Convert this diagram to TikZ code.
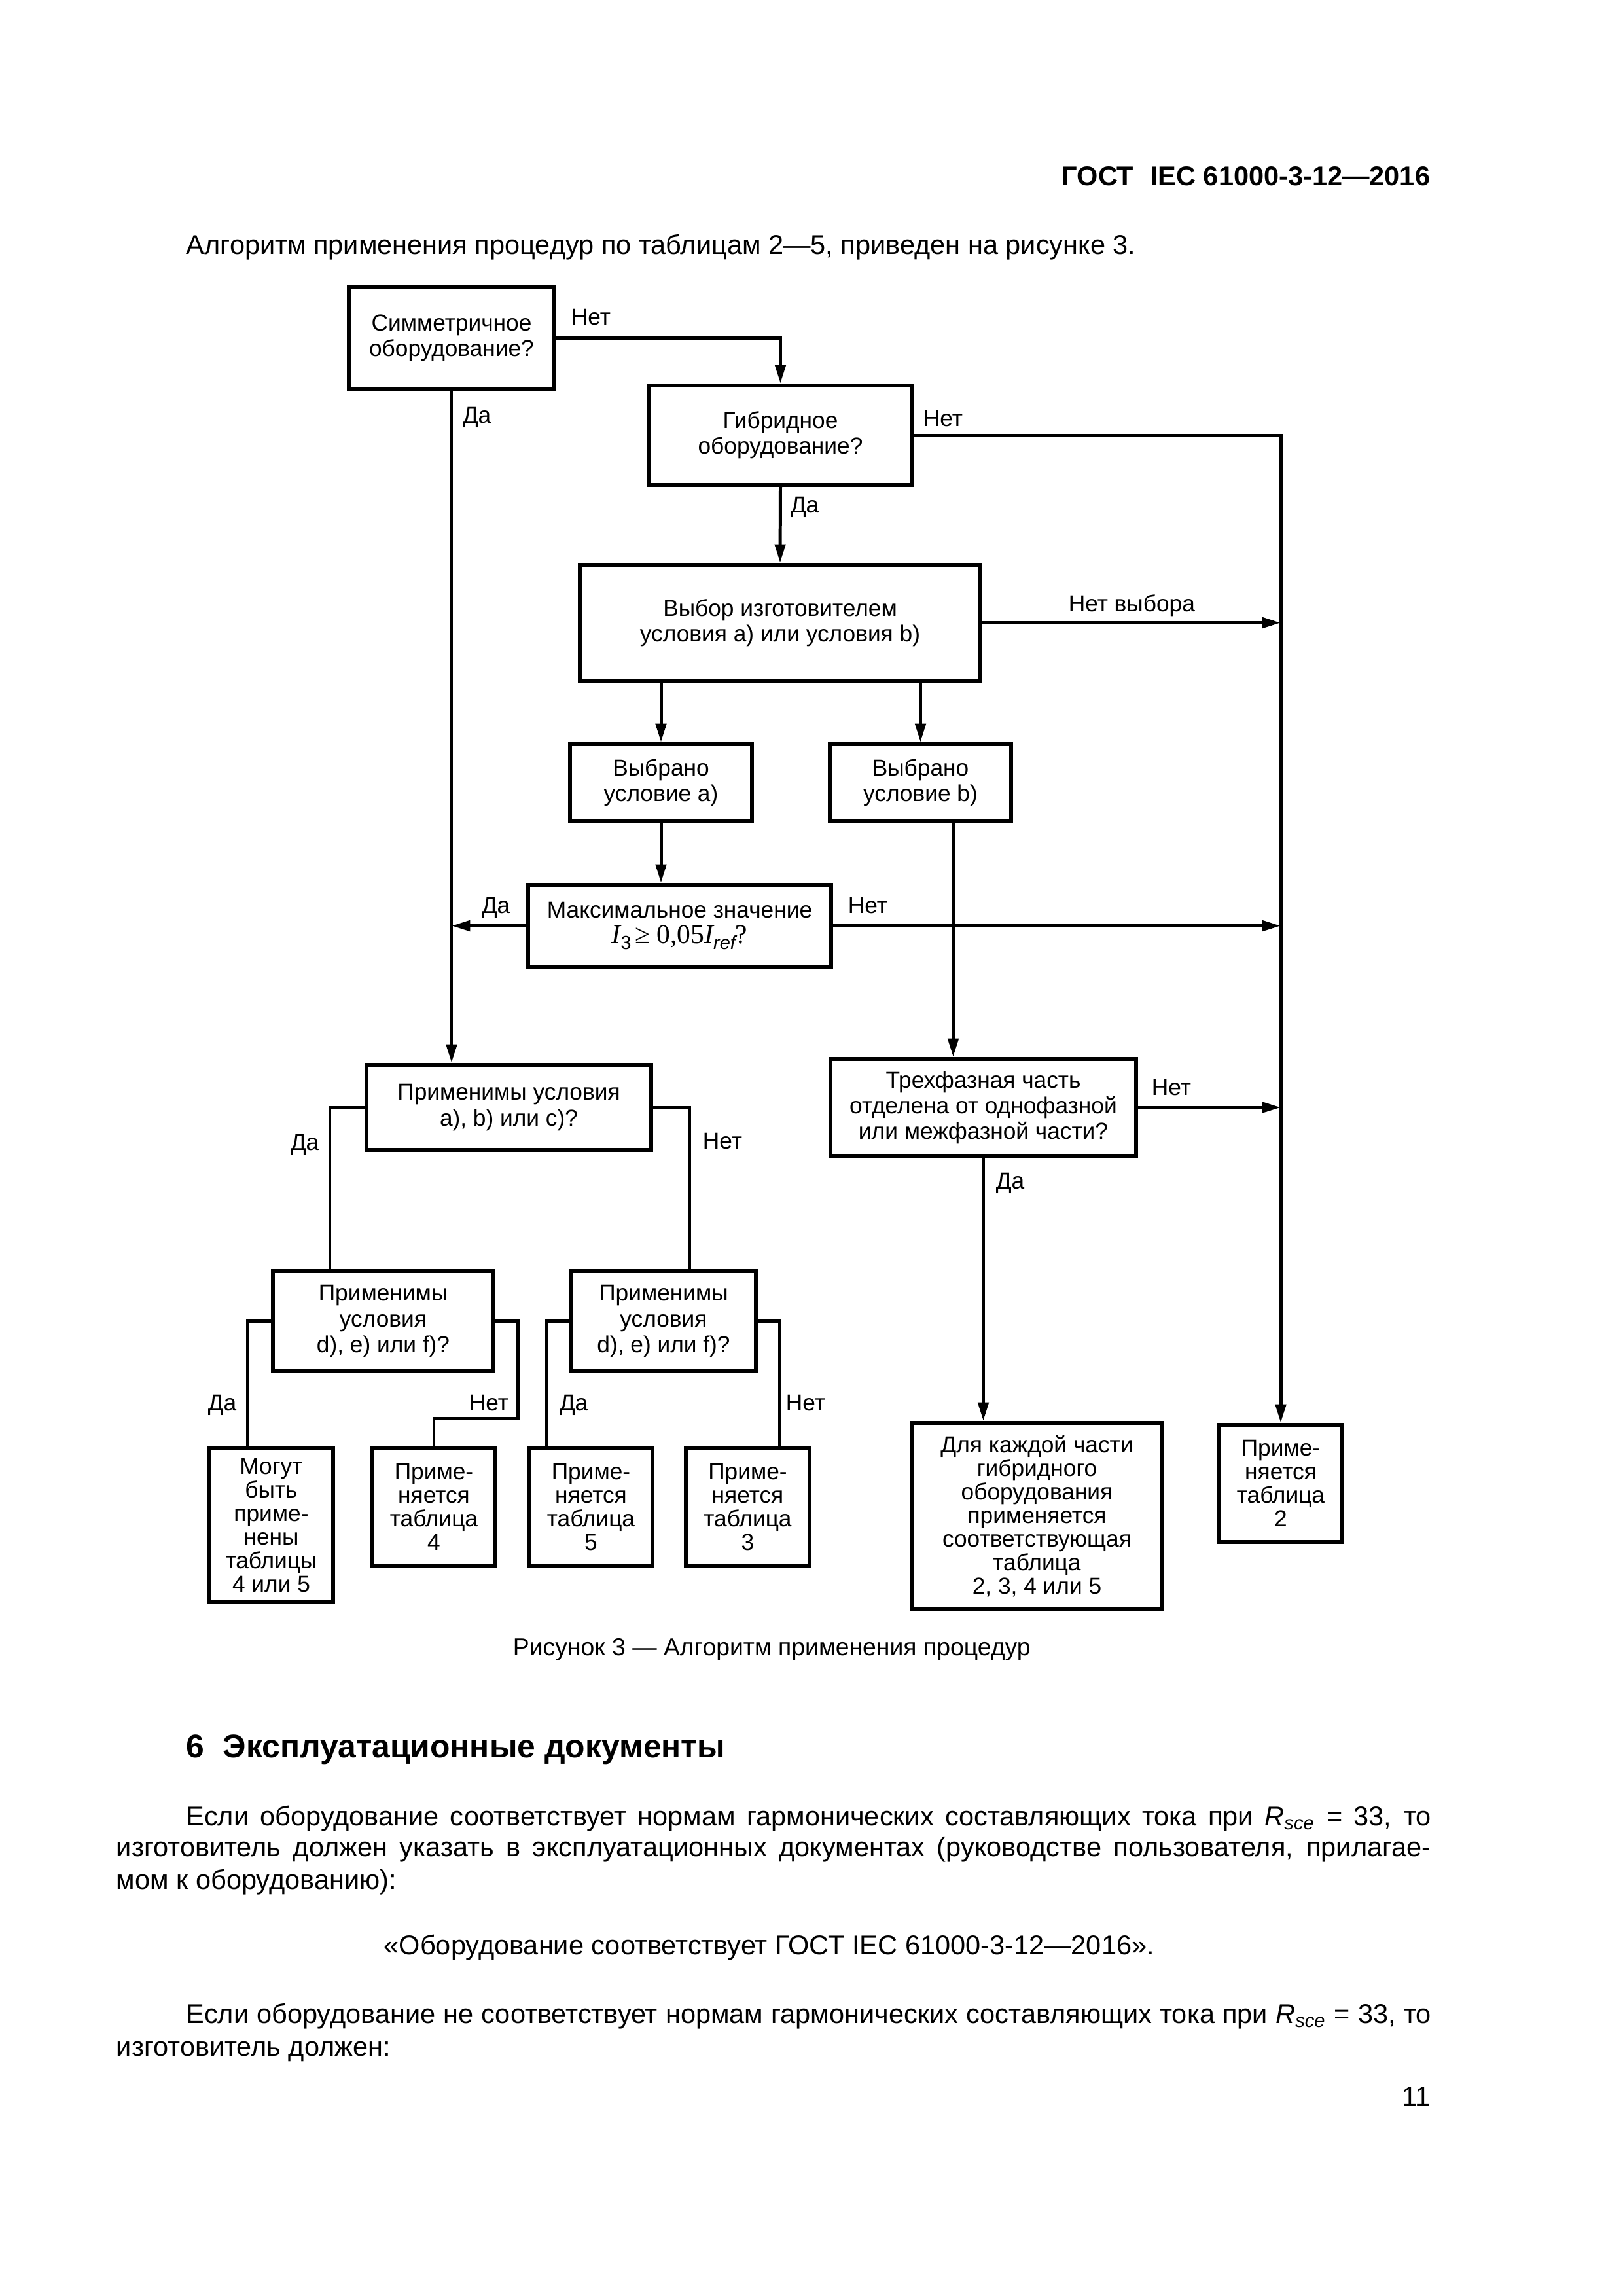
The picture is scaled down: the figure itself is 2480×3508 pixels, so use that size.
\documentclass[tikz,border=0pt]{standalone}
\usepackage{fontspec}
\setmainfont{Liberation Sans}
\newfontfamily\tnr{Liberation Serif}
\usetikzlibrary{arrows.meta}
\newlength\pxu
\setlength\pxu{0.0846774mm}
\newcommand\boxfont{\fontsize{8.5}{9.4}\selectfont}
\newcommand\tallfont{\fontsize{8.5}{8.7}\selectfont}
\newcommand\bodyfont{\fontsize{10}{12}\selectfont}
\newcommand\fml{\tnr\fontsize{10}{10}\selectfont}
\begin{document}
\begin{tikzpicture}[x=0.0846774mm, y=-0.0846774mm,
  box/.style={draw, line width=1.5pt, align=center, inner sep=0pt, font=\boxfont},
  tallbox/.style={box, font=\tallfont},
  conn/.style={line width=1.2pt},
  arr/.style={conn, -{Triangle[length=2.4mm,width=1.35mm]}},
  lbl/.style={font=\boxfont, inner sep=0pt, anchor=mid west},
  body/.style={font=\bodyfont, inner sep=0pt, anchor=mid west},
]
\useasboundingbox (0,0) rectangle (2480,3508);

% page texts
\node[font=\bfseries\fontsize{10}{12}\selectfont, inner sep=0pt, anchor=mid east] (hdr) at (2186,273) {ГОСТ\hspace{2.2mm}IEC 61000-3-12—2016};
\node[body] (intro) at (284,378) {Алгоритм применения процедур по таблицам 2—5, приведен на рисунке 3.};

% boxes
\node[box, minimum width=314\pxu, minimum height=157\pxu] (sym) at (690,516.5) {Симметричное\\оборудование?};
\node[box, minimum width=403\pxu, minimum height=152\pxu] (hyb) at (1192.5,665) {Гибридное\\оборудование?};
\node[box, minimum width=612\pxu, minimum height=177\pxu] (choice) at (1192,951.5) {Выбор изготовителем\\условия a) или условия b)};
\node[box, minimum width=278\pxu, minimum height=118\pxu] (sela) at (1010,1196) {Выбрано\\условие a)};
\node[box, minimum width=277\pxu, minimum height=118\pxu] (selb) at (1406.5,1196) {Выбрано\\условие b)};
\node[box, minimum width=463\pxu, minimum height=125\pxu] (maxv) at (1038.5,1414.5)
  {Максимальное значение\\{\fml\itshape I}\lower0.5ex\hbox{\fontsize{7}{7}\selectfont 3}\,{\fml ≥ 0,05}{\fml\itshape I}\lower0.5ex\hbox{\fontsize{7}{7}\selectfont\itshape ref}{\fml ?}};
\node[box, minimum width=435\pxu, minimum height=130\pxu] (app) at (777.5,1692) {Применимы условия\\a), b) или c)?};
\node[box, minimum width=467\pxu, minimum height=148\pxu] (three) at (1502.5,1692) {Трехфазная часть\\отделена от однофазной\\или межфазной части?};
\node[box, minimum width=337\pxu, minimum height=153\pxu] (def1) at (585.5,2018.5) {Применимы\\условия\\d), e) или f)?};
\node[box, minimum width=282\pxu, minimum height=153\pxu] (def2) at (1014,2018.5) {Применимы\\условия\\d), e) или f)?};
\node[tallbox, minimum width=189\pxu, minimum height=235\pxu] (t45) at (414.5,2330.5) {Могут\\быть\\приме-\\нены\\таблицы\\4 или 5};
\node[tallbox, minimum width=188\pxu, minimum height=179\pxu] (t4) at (663,2302.5) {Приме-\\няется\\таблица\\4};
\node[tallbox, minimum width=188\pxu, minimum height=179\pxu] (t5) at (903,2302.5) {Приме-\\няется\\таблица\\5};
\node[tallbox, minimum width=189\pxu, minimum height=179\pxu] (t3) at (1142.5,2302.5) {Приме-\\няется\\таблица\\3};
\node[tallbox, minimum width=381\pxu, minimum height=285\pxu] (each) at (1584.5,2316.5) {Для каждой части\\гибридного\\оборудования\\применяется\\соответствующая\\таблица\\2, 3, 4 или 5};
\node[tallbox, minimum width=188\pxu, minimum height=179\pxu] (t2) at (1957,2266.5) {Приме-\\няется\\таблица\\2};

% helper coordinates
\coordinate (bd) at ([xshift=50\pxu]selb.south);
\coordinate (xa) at (504,0);
\coordinate (xb) at (1053,0);
\coordinate (xc) at (378,0);
\coordinate (xd) at (791,0);
\coordinate (xf) at (835,0);
\coordinate (xg) at (1191,0);
\coordinate (jog) at (0,2167);

% connectors
\draw[arr] (sym.east) -| (hyb.north);
\draw[arr] (sym.south) -- (sym.south |- app.north);
\draw[arr] (hyb.east) -| (t2.north);
\draw[arr] (hyb.south) -- (choice.north);
\draw[arr] (choice.east) -- (choice.east -| t2.north);
\draw[arr] (sela.north |- choice.south) -- (sela.north);
\draw[arr] (selb.north |- choice.south) -- (selb.north);
\draw[arr] (sela.south) -- (sela.south |- maxv.north);
\draw[arr] (maxv.west) -- (maxv.west -| sym.south);
\draw[arr] (maxv.east) -- (maxv.east -| t2.north);
\draw[arr] (bd) -- (bd |- three.north);
\draw[arr] (three.east) -- (three.east -| t2.north);
\draw[arr] (three.south) -- (three.south |- each.north);
\draw[conn] (app.west) -| (xa |- def1.north);
\draw[conn] (app.east) -| (xb |- def2.north);
\draw[conn] (def1.west) -| (xc |- t45.north);
\draw[conn] (def1.east) -| (xd |- jog) -| (t4.north);
\draw[conn] (def2.west) -| (xf |- t5.north);
\draw[conn] (def2.east) -| (xg |- t3.north);

% labels
\node[lbl] (l1) at (872,486) {Нет};
\node[lbl] (l2) at (706,636) {Да};
\node[lbl] (l3) at (1410,641) {Нет};
\node[lbl] (l4) at (1207,773) {Да};
\node[lbl] (l5) at (1632,924) {Нет выбора};
\node[lbl] (l6) at (735,1385) {Да};
\node[lbl] (l7) at (1295,1385) {Нет};
\node[lbl] (l8) at (1759,1663) {Нет};
\node[lbl] (l9) at (1521,1806) {Да};
\node[lbl] (l10) at (443,1747) {Да};
\node[lbl] (l11) at (1073,1745) {Нет};
\node[lbl] (l12) at (317,2145) {Да};
\node[lbl] (l13) at (716,2145) {Нет};
\node[lbl] (l14) at (854,2145) {Да};
\node[lbl] (l15) at (1200,2145) {Нет};

% caption and following text
\node[font=\fontsize{9}{11}\selectfont, inner sep=0pt, anchor=mid west] (cap) at (783,2519) {Рисунок 3 — Алгоритм применения процедур};
\node[font=\bfseries\fontsize{12}{14}\selectfont, inner sep=0pt, anchor=mid west] (sec) at (284,2675) {6\hspace{2.4mm}Эксплуатационные документы};
\node[body] (p1a) at (284,2778) {\makebox[1902\pxu][s]{Если оборудование соответствует нормам гармонических составляющих тока при {\itshape R}\textsubscript{\itshape sce} = 33, то}};
\node[body] (p1b) at (177,2825) {\makebox[2009\pxu][s]{изготовитель должен указать в эксплуатационных документах (руководстве пользователя, прилагае-}};
\node[body] (p1c) at (177,2875) {мом к оборудованию):};
\node[body] (quote) at (586,2975) {«Оборудование соответствует ГОСТ IEC 61000-3-12—2016».};
\node[body] (p2a) at (284,3080) {\makebox[1902\pxu][s]{Если оборудование не соответствует нормам гармонических составляющих тока при {\itshape R}\textsubscript{\itshape sce} = 33, то}};
\node[body] (p2b) at (177,3130) {изготовитель должен:};
\node[font=\bodyfont, inner sep=0pt, anchor=mid east] (pg) at (2186,3206) {11};
\end{tikzpicture}
\end{document}
